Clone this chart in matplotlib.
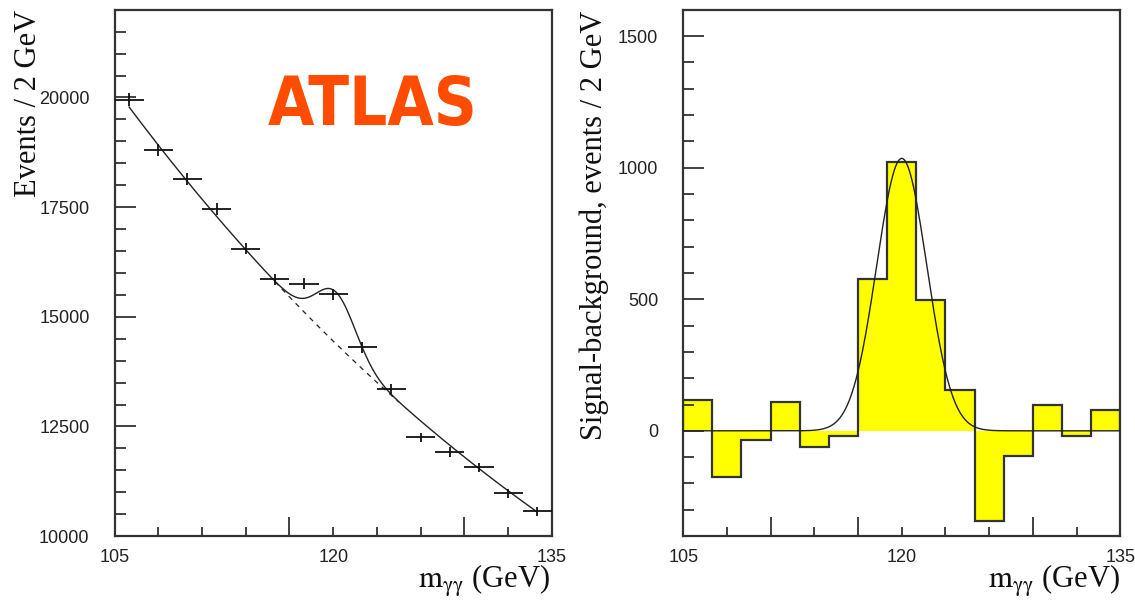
import numpy as np
import matplotlib
matplotlib.use("Agg")
import matplotlib.pyplot as plt

plt.rcParams["mathtext.fontset"] = "stix"

# ---- data -------------------------------------------------------------
bin_edges = [105, 107, 109, 111, 113, 115, 117, 119, 121, 123, 125, 127, 129, 131, 133, 135]
bin_centres = [106, 108, 110, 112, 114, 116, 118, 120, 122, 124, 126, 128, 130, 132, 134]

# diphoton candidates per 2 GeV bin
events = [19950, 18800, 18140, 17460, 16555, 15850, 15750, 15515,
          14300, 13350, 12250, 11920, 11570, 10975, 10570]

# background-subtracted yield per 2 GeV bin
excess = [117, -174, -34, 110, -63, -18, 577, 1022,
          496, 155, -341, -96, 98, -18, 78]

# fit results
bkg_norm, bkg_ref, bkg_slope = 19780.0, 106.0, -0.02245      # exponential background
sig_amp_full, sig_mean_full, sig_width_full = 1180.0, 120.2, 1.35   # signal on top of background
sig_amp, sig_mean, sig_width = 1035.0, 120.0, 1.72            # gaussian fitted to the excess

left_ticks = [10000, 12500, 15000, 17500, 20000]
right_ticks = [0, 500, 1000, 1500]
x_labels = {105: "105", 120: "120", 135: "135"}


def background(m):
    return bkg_norm * np.exp(bkg_slope * (m - bkg_ref))


def gaussian(m, amp, mean, width):
    return amp * np.exp(-0.5 * ((m - mean) / width) ** 2)


# ---- figure -----------------------------------------------------------
W, H = 1135, 609
PX = 72 / 100  # points per pixel
fig = plt.figure(figsize=(W / 100, H / 100), dpi=100)
fig.patch.set_facecolor("white")

ax_l = fig.add_axes([114.6 / W, 1 - 536.1 / H, 437.2 / W, 526.4 / H])
ax_r = fig.add_axes([683.2 / W, 1 - 536.1 / H, 437.1 / W, 526.4 / H])

frame_col = "#333333"
tick_font = dict(family="Liberation Sans", size=13, color="#222222")
title_font = dict(family="Liberation Serif", size=22, color="#111111")
mass_title = r"$\mathrm{m}_{\mathrm{\gamma\gamma}}$ (GeV)"


def style_axes(ax, tall_x, short_x):
    for sp in ax.spines.values():
        sp.set_linewidth(1.6)
        sp.set_color(frame_col)
    ax.set_xlim(105, 135)
    ax.set_xticks(tall_x, labels=[""] * len(tall_x))
    ax.set_xticks(short_x, labels=[x_labels.get(v, "") for v in short_x], minor=True)
    ax.tick_params(which="both", direction="in", color=frame_col, width=1.3,
                   top=False, right=False)
    ax.tick_params(axis="x", which="major", length=19 * PX)
    ax.tick_params(axis="x", which="minor", length=9 * PX, pad=9)
    ax.tick_params(axis="y", which="major", length=21 * PX, pad=18)
    ax.tick_params(axis="y", which="minor", length=11 * PX)
    for lab in ax.get_xticklabels(minor=True) + ax.get_yticklabels():
        lab.set_fontfamily(tick_font["family"])
        lab.set_fontsize(tick_font["size"])
        lab.set_color(tick_font["color"])


short_all = [105, 108, 111, 114, 117, 120, 123, 126, 129, 132, 135]

# ---- left: invariant mass spectrum with fit ---------------------------
ax_l.set_ylim(10000, 22000)
ax_l.set_yticks(left_ticks, labels=[str(v) for v in left_ticks])
ax_l.set_yticks(np.arange(10000, 22001, 500), minor=True)
style_axes(ax_l, [117, 129], [v for v in short_all if v not in (117, 129)])

ev = np.array(events, dtype=float)
ax_l.errorbar(bin_centres, ev, xerr=1.0, yerr=np.sqrt(ev), fmt="none",
              ecolor="#111111", elinewidth=1.3, capsize=0, zorder=3)

m_full = np.linspace(bin_centres[0], bin_centres[-1], 600)
m_bkg = np.linspace(116.0, 124.5, 200)
ax_l.plot(m_bkg, background(m_bkg), color="#222222", lw=0.9,
          linestyle=(0, (4, 4)), zorder=2)
ax_l.plot(m_full, background(m_full) + gaussian(m_full, sig_amp_full, sig_mean_full, sig_width_full),
          color="#222222", lw=1.0, zorder=2)

fig.text(372.5 / W, 1 - 125 / H, "ATLAS", color="#FF4C00", fontsize=48,
         family="DejaVu Sans", fontweight="bold", fontstretch="condensed",
         ha="center", va="baseline")

fig.text(36 / W, 1 - 10 / H, "Events / 2 GeV", rotation=90, rotation_mode="anchor",
         ha="right", va="baseline", **title_font)
fig.text(550 / W, 1 - 588 / H, mass_title, ha="right", va="baseline", **title_font)

# ---- right: background-subtracted excess ------------------------------
ax_r.set_ylim(-400, 1600)
ax_r.set_yticks(right_ticks, labels=[str(v) for v in right_ticks])
ax_r.set_yticks(np.arange(-400, 1601, 100), minor=True)
style_axes(ax_r, [111, 117, 129], [v for v in short_all if v not in (111, 117, 129)])

ax_r.stairs(excess, bin_edges, baseline=0, fill=True, color="#FFFF00", lw=0, zorder=1)
ax_r.stairs(excess, bin_edges, baseline=0, fill=False, edgecolor=frame_col, lw=1.6, zorder=2)

m_r = np.linspace(105, 135, 800)
ax_r.plot(m_r, gaussian(m_r, sig_amp, sig_mean, sig_width), color="#222222", lw=1.0, zorder=3)

fig.text(602 / W, 1 - 11 / H, "Signal-background, events / 2 GeV", rotation=90,
         rotation_mode="anchor", ha="right", va="baseline", **title_font)
fig.text(1120 / W, 1 - 588 / H, mass_title, ha="right", va="baseline", **title_font)

fig.savefig("out.png", dpi=100, facecolor="white")
